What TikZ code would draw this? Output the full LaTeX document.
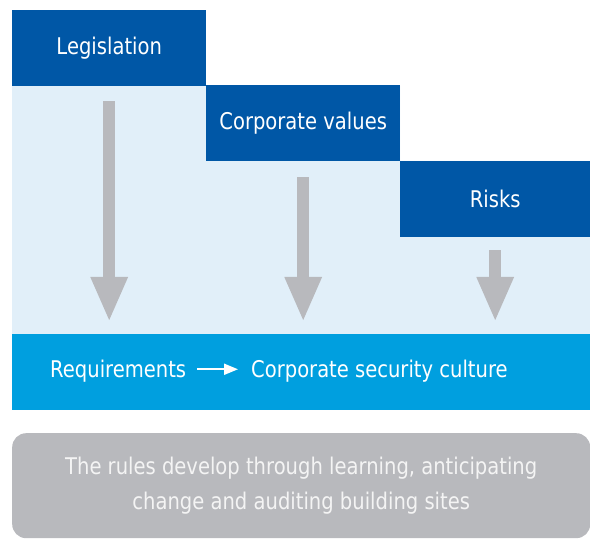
\documentclass[tikz,border=0pt]{standalone}
\usepackage{fontspec}
\setmainfont{DejaVu Sans}[FakeStretch=0.85]
\usepackage{tikz}
\usetikzlibrary{arrows.meta}

\definecolor{darkblue}{HTML}{0057A6}
\definecolor{paleblue}{HTML}{E1EFF9}
\definecolor{bandblue}{HTML}{009FDF}
\definecolor{arrowgrey}{HTML}{B8B9BD}
\definecolor{notegrey}{HTML}{F4F4F4}

\tikzset{
  source/.style={fill=darkblue, text=white, minimum width=194pt, minimum height=76pt, inner sep=0pt, anchor=north west},
  bigarrow/.style={arrowgrey, line width=11.5pt, -{Triangle[width=34pt,length=45pt]}},
  words/.style={text=white, inner sep=0pt, anchor=base west}
}

\begin{document}
\begin{tikzpicture}[x=1pt,y=-1pt,font=\fontsize{23}{35}\selectfont]

 \useasboundingbox (0,0) rectangle (590,540);

% pale staircase behind the arrows
 \fill[paleblue] (12,86) -- (400,86) -- (400,161) -- (590,161) -- (590,334) -- (12,334) -- cycle;

 \node[source] (legislation) at (12,10) {Legislation};
 \node[source] (values) at (206,85) {Corporate values};
 \node[source, minimum width=190pt] (risks) at (400,161) {Risks};

% result band
 \node[fill=bandblue, minimum width=578pt, minimum height=76pt, inner sep=0pt, anchor=north west] (band) at (12,334) {};
 \node[words] (req) at (50,378) {Requirements};
 \node[words] (culture) at (251,378) {Corporate security culture};
 \draw[white, line width=2pt, -{Triangle[width=11pt,length=14pt]}] ([xshift=11pt,yshift=6pt]req.mid east) -- ([xshift=-13pt,yshift=6pt]culture.mid west);

% down arrows
 \draw[bigarrow, shorten <=15pt, shorten >=12pt] (legislation.south) -- (legislation.south |- band.north);
 \draw[bigarrow, shorten <=16pt, shorten >=12pt] (values.south) -- (values.south |- band.north);
 \draw[bigarrow, shorten <=13pt, shorten >=12pt] (risks.south) -- (risks.south |- band.north);

% note
 \node[fill=arrowgrey, text=notegrey, rounded corners=14pt, minimum width=578pt, minimum height=105pt, inner sep=0pt, align=center, anchor=north west] (note) at (12,433)
   {The rules develop through learning, anticipating\\change and auditing building sites};

\end{tikzpicture}
\end{document}
